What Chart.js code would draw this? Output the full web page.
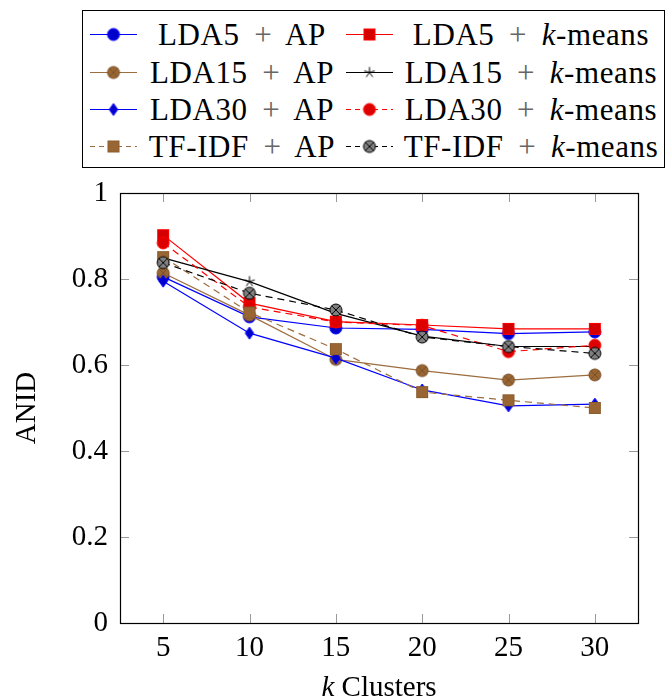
<!DOCTYPE html>
<html><head><meta charset="utf-8">
<script src="https://cdn.jsdelivr.net/npm/chart.js@4/dist/chart.umd.min.js"></script>
<style>
body{margin:0;background:#fff;}
#wrap{position:relative;width:665px;height:700px;}
#c{position:absolute;left:0;top:0;}
#legend{position:absolute;left:82px;top:10px;width:583px;height:158px;border:1px solid #000;box-sizing:border-box;font-family:"Liberation Serif","DejaVu Serif","Noto Serif",serif;font-size:31px;letter-spacing:0.6px;color:#000;background:#fff;}
.sample{position:absolute;}
.lbl{position:absolute;text-align:center;white-space:nowrap;height:37px;line-height:37px;}
.plus{color:#666;margin:0 0.2em;}
</style></head>
<body>
<div id="wrap">
<canvas id="c" width="665" height="700"></canvas>
<div id="legend"></div>
</div>
<script>
// ---- data ----
const xValues = [5, 10, 15, 20, 25, 30];
const yTicks = [0, 0.2, 0.4, 0.6, 0.8, 1];
const seriesLabels = ["LDA5 + AP", "LDA5 + k-means", "LDA15 + AP", "LDA15 + k-means",
                      "LDA30 + AP", "LDA30 + k-means", "TF-IDF + AP", "TF-IDF + k-means"];
const lda5AP   = [0.805, 0.712, 0.686, 0.683, 0.673, 0.677];
const lda5KM   = [0.902, 0.744, 0.701, 0.693, 0.684, 0.684];
const lda15AP  = [0.814, 0.716, 0.613, 0.587, 0.565, 0.577];
const lda15KM  = [0.849, 0.794, 0.720, 0.667, 0.643, 0.643];
const lda30AP  = [0.795, 0.674, 0.616, 0.542, 0.505, 0.509];
const lda30KM  = [0.884, 0.735, 0.700, 0.692, 0.631, 0.646];
const tfidfAP  = [0.851, 0.722, 0.637, 0.537, 0.518, 0.500];
const tfidfKM  = [0.838, 0.767, 0.728, 0.665, 0.643, 0.627];
const seriesValues = [lda5AP, lda5KM, lda15AP, lda15KM, lda30AP, lda30KM, tfidfAP, tfidfKM];

// ---- styles ----
const FONT = '"Liberation Serif", "DejaVu Serif", "Noto Serif", serif';
const DASH = [7, 5];
const styles = [
  {line:'#0000ff', dash:[], mark:'circle', fill:'#0000cc', stroke:'#0000ff'},
  {line:'#ff0000', dash:[], mark:'square', fill:'#d40000', stroke:'#ff0000'},
  {line:'#9c6d3e', dash:[], mark:'otimes', fill:'#996633', stroke:'#7a5028'},
  {line:'#000000', dash:[], mark:'star', fill:'#000', stroke:'#000'},
  {line:'#0000ff', dash:[], mark:'diamond', fill:'#0000cc', stroke:'#0000ff'},
  {line:'#ff0000', dash:DASH, mark:'circle', fill:'#dd0000', stroke:'#ff0000'},
  {line:'#9c6d3e', dash:DASH, mark:'square', fill:'#996633', stroke:'#8a5c2e'},
  {line:'#000000', dash:DASH, mark:'otimes', fill:'#808080', stroke:'#000000'}
];

function makeMarker(type, fill, stroke){
  const S = 16, c = S/2;
  const cv = document.createElement('canvas');
  cv.width = S; cv.height = S;
  const g = cv.getContext('2d');
  g.lineWidth = 1; g.fillStyle = fill; g.strokeStyle = stroke;
  if (type === 'circle' || type === 'otimes'){
    const r = 6;
    g.beginPath(); g.arc(c, c, r, 0, Math.PI*2); g.fill(); g.stroke();
    if (type === 'otimes'){
      const d = r*0.72;
      g.beginPath();
      g.moveTo(c-d, c-d); g.lineTo(c+d, c+d);
      g.moveTo(c+d, c-d); g.lineTo(c-d, c+d);
      g.stroke();
    }
  } else if (type === 'square'){
    g.fillRect(c-5.5, c-5.5, 11, 11); g.strokeRect(c-5.5, c-5.5, 11, 11);
  } else if (type === 'diamond'){
    g.beginPath(); g.moveTo(c, c-6); g.lineTo(c+4.2, c); g.lineTo(c, c+6); g.lineTo(c-4.2, c); g.closePath();
    g.fill(); g.stroke();
  } else if (type === 'star'){
    g.beginPath();
    for (let k = 0; k < 5; k++){
      const a = -Math.PI/2 + k*2*Math.PI/5;
      g.moveTo(c, c); g.lineTo(c + 5.5*Math.cos(a), c + 5.5*Math.sin(a));
    }
    g.stroke();
  }
  return cv;
}

const markers = styles.map(s => makeMarker(s.mark, s.fill, s.stroke));

const datasets = seriesLabels.map((lab, i) => ({
  label: lab,
  data: xValues.map((x, j) => ({x: x, y: seriesValues[i][j]})),
  borderColor: styles[i].line,
  backgroundColor: styles[i].fill,
  borderWidth: 1.2,
  borderDash: styles[i].dash,
  pointStyle: markers[i],
  pointRadius: 6,
  pointHoverRadius: 6,
  fill: false,
  tension: 0,
  order: seriesLabels.length - 1 - i
}));

const framePlugin = {
  id: 'frame',
  beforeDatasetsDraw(chart){
    const {ctx, chartArea: a, scales: {x, y}} = chart;
    ctx.save();
    ctx.strokeStyle = '#9a9a9a'; ctx.lineWidth = 1;
    const TL = 9;
    ctx.beginPath();
    xValues.forEach(v => {
      const px = Math.round(x.getPixelForValue(v)) + 0.5;
      ctx.moveTo(px, a.bottom); ctx.lineTo(px, a.bottom - TL);
      ctx.moveTo(px, a.top); ctx.lineTo(px, a.top + TL);
    });
    yTicks.forEach(v => {
      const py = Math.round(y.getPixelForValue(v)) + 0.5;
      ctx.moveTo(a.left, py); ctx.lineTo(a.left + TL, py);
      ctx.moveTo(a.right, py); ctx.lineTo(a.right - TL, py);
    });
    ctx.stroke();
    ctx.strokeStyle = '#000'; ctx.lineWidth = 1.2;
    ctx.strokeRect(a.left + 0.5, a.top + 0.5, a.right - a.left, a.bottom - a.top);
    ctx.restore();
  },
  afterDraw(chart){
    const {ctx, chartArea: a} = chart;
    ctx.save();
    ctx.fillStyle = '#000';
    ctx.textBaseline = 'alphabetic';
    ctx.textAlign = 'left';
    const fi = 'italic 29px ' + FONT, fn = '29px ' + FONT;
    ctx.font = fi; const w1 = ctx.measureText('k').width;
    ctx.font = fn; const w2 = ctx.measureText(' Clusters').width;
    const x0 = (a.left + a.right)/2 - (w1 + w2)/2;
    const yb = 696;
    ctx.font = fi; ctx.fillText('k', x0, yb);
    ctx.font = fn; ctx.fillText(' Clusters', x0 + w1, yb);
    ctx.restore();
  }
};

new Chart(document.getElementById('c'), {
  type: 'line',
  data: {datasets: datasets},
  options: {
    responsive: false,
    animation: false,
    devicePixelRatio: 1,
    layout: {padding: {left: 0, top: 193, right: 27, bottom: 0}},
    plugins: {legend: {display: false}, tooltip: {enabled: false}},
    events: [],
    scales: {
      x: {
        type: 'linear', min: 2.5, max: 32.5,
        grid: {display: false, drawTicks: false},
        border: {display: false},
        ticks: {font: {family: FONT, size: 29}, color: '#000', padding: 8, maxRotation: 0,
                callback: v => String(v)},
        afterBuildTicks: s => { s.ticks = xValues.map(v => ({value: v})); },
        afterFit: s => { s.height = 77; }
      },
      y: {
        type: 'linear', min: 0, max: 1,
        grid: {display: false, drawTicks: false},
        border: {display: false},
        ticks: {font: {family: FONT, size: 29}, color: '#000', padding: 12,
                callback: v => (v === 0 || v === 1) ? String(v) : v.toFixed(1)},
        afterBuildTicks: s => { s.ticks = yTicks.map(v => ({value: v})); },
        afterFit: s => { s.width = 120; },
        title: {display: true, text: 'ANID', color: '#000', font: {family: FONT, size: 29},
                padding: {top: 10, bottom: 0}}
      }
    }
  },
  plugins: [framePlugin]
});

// ---- legend (HTML) ----
const legend = document.getElementById('legend');
const rowCenters = [23, 61, 98, 135];
function labelHTML(t){
  return t.replace(' + ', ' <span class="plus">+</span> ').replace('k-means', '<i>k</i>-means');
}
seriesLabels.forEach((lab, i) => {
  const row = Math.floor(i/2), col = i % 2;
  const cy = rowCenters[row];
  const sx = col === 0 ? 5 : 261;
  const cv = document.createElement('canvas');
  cv.width = 52; cv.height = 20; cv.className = 'sample';
  cv.style.left = sx + 'px'; cv.style.top = (cy - 10) + 'px';
  const g = cv.getContext('2d');
  g.strokeStyle = styles[i].line; g.lineWidth = 1.2;
  g.setLineDash(styles[i].dash.length ? [5, 4] : []);
  g.beginPath(); g.moveTo(2, 10.5); g.lineTo(49, 10.5); g.stroke();
  g.setLineDash([]);
  g.drawImage(markers[i], 25.5 - 8, 10.5 - 8);
  legend.appendChild(cv);
  const sp = document.createElement('span');
  sp.className = 'lbl';
  const l0 = col === 0 ? 57 : 313, w = col === 0 ? 204 : 270;
  sp.style.left = l0 + 'px'; sp.style.width = w + 'px';
  sp.style.top = (cy - 18.5) + 'px';
  sp.innerHTML = labelHTML(lab);
  legend.appendChild(sp);
});
</script>
</body></html>
